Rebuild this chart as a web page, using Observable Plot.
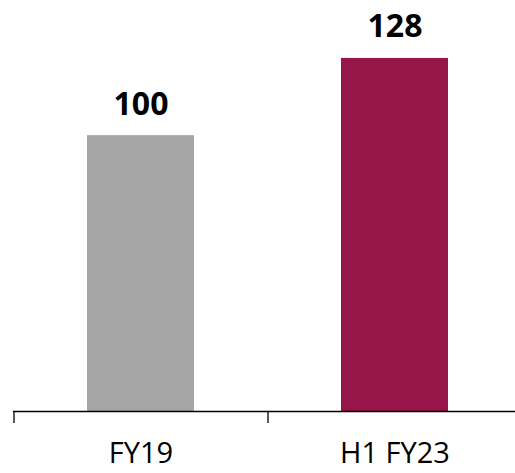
<!DOCTYPE html>
<html>
<head>
<meta charset="utf-8">
<script src="https://cdn.jsdelivr.net/npm/d3@7"></script>
<script src="https://cdn.jsdelivr.net/npm/@observablehq/plot@0.6"></script>
<style>
  html, body { margin: 0; padding: 0; background: #fff; }
  svg { display: block; }
</style>
</head>
<body>
<div id="chart"></div>
<script>
const categories = ["FY19", "H1 FY23"];
const values = [100, 128];
const barColors = ["#A6A6A6", "#96164A"];

const data = categories.map((c, i) => ({category: c, value: values[i], color: barColors[i]}));

const chart = Plot.plot({
  width: 515,
  height: 473,
  marginLeft: 13,
  marginRight: -6,
  marginTop: 0,
  marginBottom: 62,
  style: {fontFamily: "'Open Sans', sans-serif", background: "#fff", overflow: "hidden"},
  x: {domain: categories, paddingInner: 0.58, paddingOuter: 0.29, axis: null},
  y: {domain: [0, 149], axis: null},
  marks: [
    Plot.barY(data, {x: "category", y: "value", fill: "color"}),
    Plot.ruleY([0], {stroke: "#000", strokeWidth: 1.3}),
    Plot.ruleX(data, {x: "category", dx: -127, y: 0, stroke: "#000", strokeWidth: 1.3, insetTop: 0, insetBottom: -12}),
    Plot.text(data, {x: "category", y: "value", text: d => String(d.value), fontSize: 32, fontWeight: 700, fill: "#000", lineAnchor: "bottom", dy: -21}),
    Plot.text(data, {x: "category", frameAnchor: "bottom", text: "category", fontSize: 29, fill: "#000", lineAnchor: "top", dy: 31})
  ]
});
document.getElementById("chart").append(chart);
</script>
</body>
</html>
